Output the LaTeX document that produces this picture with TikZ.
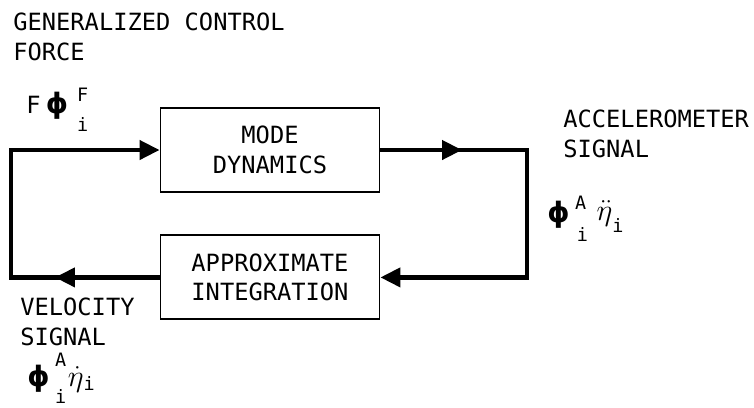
\documentclass[tikz,border=0pt]{standalone}
\usepackage{amsmath}
\usepackage{fontspec}
\setmainfont{DejaVu Sans Mono}
\newfontfamily\greekfont{DejaVu Sans}
\usetikzlibrary{arrows.meta,positioning}
\newcommand\sigfont{\fontsize{13.5}{17}\selectfont}
\newcommand\scrfont{\fontsize{10.5}{12}\selectfont}
\newcommand\phisym{{\greekfont\bfseries\fontsize{16}{16}\selectfont ϕ}}
\newcommand\etasym[1]{{\fontsize{16}{16}\selectfont$#1{\eta}$}}

\begin{document}
\begin{tikzpicture}[x=0.02cm,y=-0.02cm,
    block/.style={draw,line width=1.1pt,align=center,minimum width=4.38cm,
      minimum height=1.68cm,font=\sigfont},
    lbl/.style={anchor=west,align=left,inner sep=0pt,font=\sigfont},
    sym/.style={anchor=base west,inner sep=0pt,font=\sigfont},
    flow/.style={line width=2.4pt},
    tip/.style={-{Triangle[length=4mm,width=3.8mm]}}
  ]
    \useasboundingbox (0,0) rectangle (754,407);
    \node[block] (mode) at (270,150) {MODE\\DYNAMICS};
    \node[block,below=0.83cm of mode] (integ) {APPROXIMATE\\INTEGRATION};
    \coordinate (lft) at (11,0);
    \coordinate (rgt) at (527,0);
    % feedback loop
    \draw[flow,tip] (mode.east) -- (mode.east -| rgt) |- (integ.east);
    \draw[flow,tip] (mode.east) -- ([xshift=-1.3cm]mode.east -| rgt);
    \draw[flow,tip] (integ.west) -- (integ.west -| lft) |- (mode.west);
    \draw[flow,tip] (integ.west) -- ([xshift=0.88cm]integ.west -| lft);
    % labels
    \node[lbl] (head) at (13,37) {GENERALIZED CONTROL\\FORCE};
    \node[sym] (frc) at (26,113) {F\hspace{3pt}\phisym\hspace{5pt}%
      \rlap{\raisebox{6.5pt}{\scrfont F}}\raisebox{-10.8pt}{\scrfont i}};
    \node[lbl] (acc) at (563,134) {ACCELEROMETER\\SIGNAL};
    \node[sym] (accsym) at (547,222) {\phisym\hspace{3pt}%
      \rlap{\raisebox{7pt}{\scrfont A}}\raisebox{-11pt}{\scrfont\hspace{1pt}i}%
      \hspace{5pt}\raisebox{1pt}{\etasym\ddot}\raisebox{-6pt}{\scrfont i}};
    \node[lbl] (vel) at (20,322) {VELOCITY\\SIGNAL};
    \node[sym] (velsym) at (27,386) {\phisym\hspace{3pt}%
      \rlap{\raisebox{11pt}{\scrfont A}}\raisebox{-10pt}{\scrfont i}%
      \hspace{1pt}\etasym\dot\raisebox{-2.5pt}{\scrfont i}};
\end{tikzpicture}
\end{document}
